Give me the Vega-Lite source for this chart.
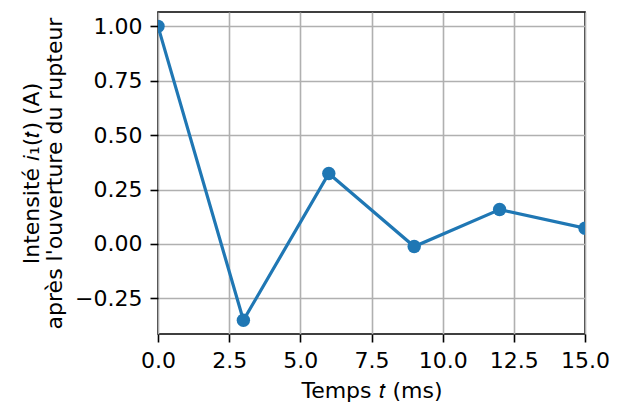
{
  "$schema": "https://vega.github.io/schema/vega-lite/v6.json",
  "width": 427,
  "height": 322,
  "autosize": "none",
  "padding": {"left": 158, "top": 12, "right": 34, "bottom": 71},
  "background": "white",
  "config": {
    "font": "DejaVu Sans",
    "view": {"stroke": "black", "strokeWidth": 1.6},
    "axis": {
      "labelFont": "DejaVu Sans",
      "titleFont": "DejaVu Sans",
      "labelFontSize": 22,
      "titleFontSize": 22,
      "labelColor": "black",
      "titleColor": "black",
      "titleFontWeight": "normal",
      "tickColor": "black",
      "tickSize": 8,
      "tickWidth": 1.6,
      "domain": false,
      "gridColor": "#b0b0b0",
      "gridWidth": 1.6,
      "labelPadding": 8
    }
  },
  "data": {
    "values": [
      {"t": 0, "i": 1.0},
      {"t": 3, "i": -0.351},
      {"t": 6, "i": 0.324},
      {"t": 9, "i": -0.012},
      {"t": 12, "i": 0.158},
      {"t": 15, "i": 0.072}
    ]
  },
  "encoding": {
    "x": {
      "field": "t",
      "type": "quantitative",
      "scale": {"domain": [0, 15], "nice": false, "zero": false},
      "axis": {
        "values": [0, 2.5, 5, 7.5, 10, 12.5, 15],
        "format": ".1f",
        "title": "Temps 𝑡 (ms)",
        "titlePadding": 9,
        "labelFlush": false
      }
    },
    "y": {
      "field": "i",
      "type": "quantitative",
      "scale": {"domain": [-0.414, 1.066], "nice": false, "zero": false},
      "axis": {
        "values": [-0.25, 0, 0.25, 0.5, 0.75, 1.0],
        "format": ".2f",
        "title": ["Intensité 𝑖₁(𝑡) (A)", "après l'ouverture du rupteur"],
        "titlePadding": 8,
        "titleLineHeight": 23,
        "labelFlush": false
      }
    }
  },
  "layer": [
    {"mark": {"type": "line", "color": "#1f77b4", "strokeWidth": 3.2, "clip": true}},
    {"mark": {"type": "point", "filled": true, "opacity": 1, "color": "#1f77b4", "size": 180, "clip": true}}
  ]
}
